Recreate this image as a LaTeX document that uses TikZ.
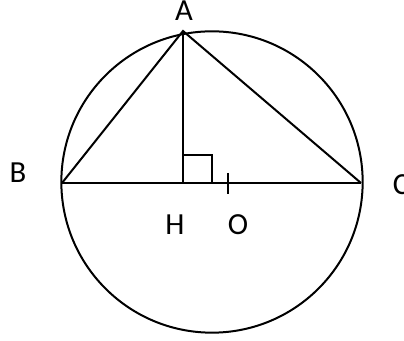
\documentclass[tikz,border=0pt]{standalone}
\usepackage{fontspec}
\setmainfont{Carlito}
\usetikzlibrary{calc}

\begin{document}
\begin{tikzpicture}[
    x=0.75pt, y=-0.75pt,
    line width=1.5pt,
    ptlabel/.style={font=\fontsize{23}{23}\selectfont, inner sep=0pt},
    tick/.style={line width=1.5pt},
]
\useasboundingbox (0,0) rectangle (404,341);

% ---- Points ----
\coordinate (centre) at (212,182);
\coordinate (A) at (183,31);
\coordinate (B) at (62,183);
\coordinate (C) at (361,183);
\coordinate (H) at (183,183);
\coordinate (O) at (228,183);

% ---- Circle ----
\draw (centre) circle [radius=113pt];

% ---- Triangle and height ----
\draw (B) -- (A) -- (C);
\draw (B) -- (C);
\draw (A) -- (H);

% ---- Right angle at H ----
\draw (H) -- ++(0,-28) -- ++(29,0) -- ++(0,28);

% ---- Tick at O ----
\draw[tick] ($(O)+(0,-10)$) -- ($(O)+(0,11)$);

% ---- Labels ----
\node[ptlabel] (labA) at (184,11) {A};
\node[ptlabel] (labB) at (18,173) {B};
\node[ptlabel] (labC) at (401,185) {C};
\node[ptlabel] (labH) at (175,225) {H};
\node[ptlabel] (labO) at (238,225) {O};

\end{tikzpicture}
\end{document}
